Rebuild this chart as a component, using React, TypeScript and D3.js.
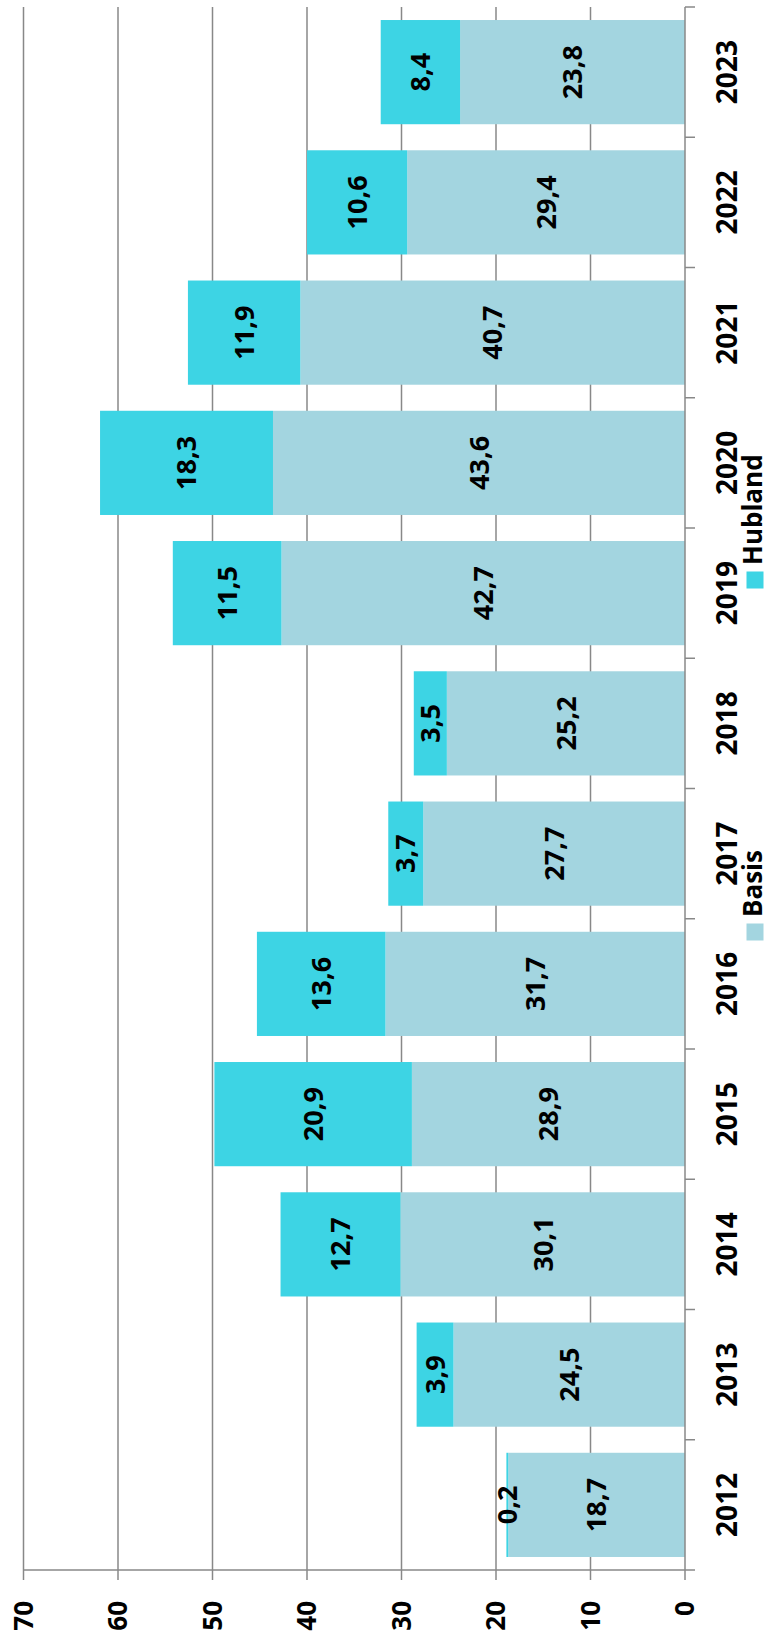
import React from "react";
import * as d3 from "d3";

const years = ["2012","2013","2014","2015","2016","2017","2018","2019","2020","2021","2022","2023"];
const basis = [18.7, 24.5, 30.1, 28.9, 31.7, 27.7, 25.2, 42.7, 43.6, 40.7, 29.4, 23.8];
const hubland = [0.2, 3.9, 12.7, 20.9, 13.6, 3.7, 3.5, 11.5, 18.3, 11.9, 10.6, 8.4];
const valueTicks = [0, 10, 20, 30, 40, 50, 60, 70];
const seriesNames = ["Basis", "Hubland"];
const seriesColors = ["#a3d5e0", "#3dd4e4"];

const FONT = "'Open Sans', sans-serif";
const GRID = "#888888";

const fmt = (v: number) => v.toFixed(1).replace(".", ",");

export default function App() {
  const W = 769, H = 1641;
  const axisX = 685, axisY = 1570, top = 7;
  const x = d3.scaleLinear().domain([0, 70]).range([axisX, 23.5]);
  const y = d3.scaleBand<string>().domain(years).range([axisY, top]).paddingInner(0.2).paddingOuter(0.1);
  const edges = d3.scaleLinear().domain([0, years.length]).range([axisY, top]);
  const bw = y.bandwidth();

  const series = [basis, hubland];
  const stacked = years.map((yr, i) => {
    let acc = 0;
    return series.map((s, k) => {
      const v0 = acc;
      acc += s[i];
      return { yr, k, v0, v1: acc, v: s[i] };
    });
  });

  return (
    <svg width={W} height={H} style={{ position: "absolute", left: 0, top: 0, background: "#fff" }}>
      {/* gridlines */}
      {valueTicks.filter((t) => t > 0).map((t) => (
        <line key={"g" + t} x1={x(t)} x2={x(t)} y1={top} y2={axisY} stroke={GRID} strokeWidth={1.5} />
      ))}
      {/* bars */}
      {stacked.flat().map((d) => (
        <rect
          key={d.yr + "-" + d.k}
          x={x(d.v1)}
          width={x(d.v0) - x(d.v1)}
          y={y(d.yr)}
          height={bw}
          fill={seriesColors[d.k]}
        />
      ))}
      {/* value axis line and ticks */}
      <line x1={x(70)} x2={axisX} y1={axisY} y2={axisY} stroke={GRID} strokeWidth={1.5} />
      {valueTicks.map((t) => (
        <g key={"t" + t}>
          <line x1={x(t)} x2={x(t)} y1={axisY} y2={axisY + 10} stroke={GRID} strokeWidth={1.5} />
          <text
            transform={`translate(${x(t) + 9},${1601}) rotate(-90)`}
            textAnchor="end"
            fontFamily={FONT}
            fontWeight={700}
            fontSize={26}
            fill="#000"
          >
            {t}
          </text>
        </g>
      ))}
      {/* category axis */}
      <line x1={axisX} x2={axisX} y1={top} y2={axisY} stroke={GRID} strokeWidth={1.5} />
      {d3.range(years.length + 1).map((i) => (
        <line key={"c" + i} x1={axisX} x2={axisX + 10} y1={edges(i)} y2={edges(i)} stroke={GRID} strokeWidth={1.5} />
      ))}
      {years.map((yr) => (
        <text
          key={"y" + yr}
          transform={`translate(${737},${(y(yr) as number) + bw / 2}) rotate(-90)`}
          textAnchor="middle"
          fontFamily={FONT}
          fontWeight={700}
          fontSize={28}
          fill="#000"
        >
          {yr}
        </text>
      ))}
      {/* value labels */}
      {stacked.flat().map((d) => (
        <text
          key={"l" + d.yr + d.k}
          transform={`translate(${x((d.v0 + d.v1) / 2)},${(y(d.yr) as number) + bw / 2}) rotate(-90)`}
          textAnchor="middle"
          dy="0.36em"
          fontFamily={FONT}
          fontWeight={700}
          fontSize={27}
          fill="#000"
        >
          {fmt(d.v)}
        </text>
      ))}
      {/* legend */}
      {seriesNames.map((name, k) => {
        const cy = k === 0 ? 932 : 580;
        return (
          <g key={"lg" + name}>
            <rect x={746.5} y={cy - 8.5} width={17} height={17} fill={seriesColors[k]} />
            <text
              transform={`translate(${762},${cy - 15}) rotate(-90)`}
              textAnchor="start"
              fontFamily={FONT}
              fontWeight={700}
              fontSize={26}
              fill="#000"
            >
              {name}
            </text>
          </g>
        );
      })}
    </svg>
  );
}
